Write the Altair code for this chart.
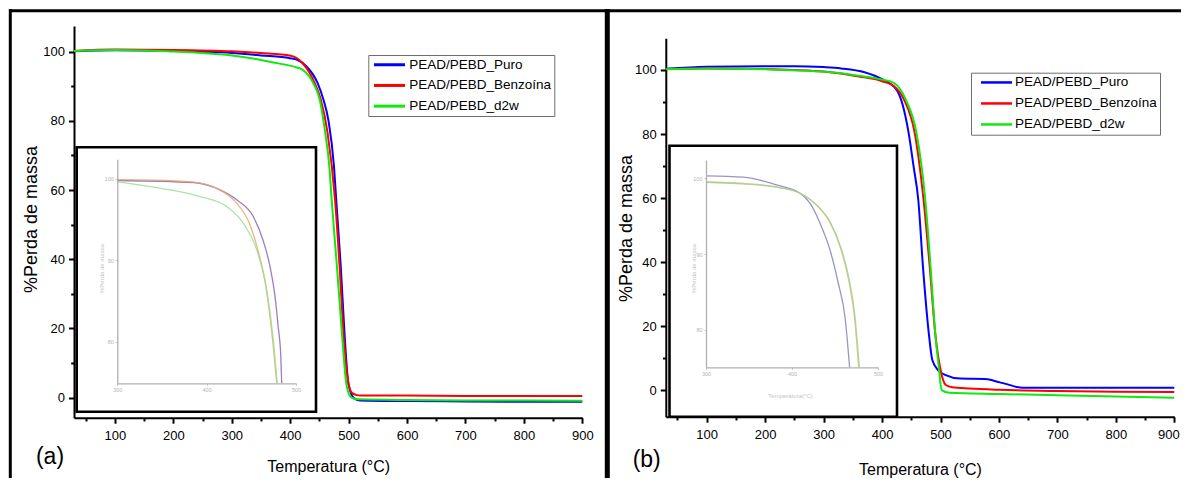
import altair as alt
import pandas as pd

# ---------------- data ----------------
SERIES = ["PEAD/PEBD_Puro", "PEAD/PEBD_Benzoína", "PEAD/PEBD_d2w"]
MAIN_COLORS = ["#0000ff", "#ff0000", "#10e810"]
INSET_A_COLORS = ["#8a66b8", "#e8a868", "#96e096"]
INSET_B_COLORS = ["#8484bc", "#d6c27a", "#a6cf8e"]

X_MAJOR = [100, 200, 300, 400, 500, 600, 700, 800, 900]
X_MINOR = [50, 150, 250, 350, 450, 550, 650, 750, 850]
Y_MAJOR = [0, 20, 40, 60, 80, 100]
Y_MINOR = [10, 30, 50, 70, 90]
INSET_X_TICKS = [300, 400, 500]
INSET_Y_TICKS = [80, 90, 100]

# panel (a) main curves
a_puro_t = [30, 100, 200, 300, 350, 400, 411, 427.6, 447, 457, 465.6, 475, 478.8, 486.6, 493, 499.7, 509.6, 520, 600, 700, 800, 900]
a_puro_m = [100.1, 100.4, 100.2, 99.6, 98.9, 98.1, 97.7, 95.8, 90.9, 86.1, 80.0, 66.8, 57.2, 37.9, 18.6, 4.1, -0.2, -0.8, -1.0, -1.1, -1.2, -1.2]
a_benz_t = [30, 100, 200, 300, 350, 401, 421, 442, 452.5, 464, 476.8, 484.6, 491.2, 499.7, 505, 512.8, 520, 600, 700, 800, 900]
a_benz_m = [100.2, 100.6, 100.5, 100.1, 99.6, 98.8, 96.7, 90.9, 86.1, 76.5, 57.2, 37.9, 18.6, 4.1, 1.5, 0.8, 0.6, 0.6, 0.5, 0.5, 0.5]
a_d2w_t = [30, 100, 200, 250, 300, 350, 380, 410, 421, 439.5, 450.6, 460, 467, 471, 480, 488.6, 496, 503, 510, 520, 600, 700, 800, 900]
a_d2w_m = [100.2, 100.5, 100.0, 99.6, 98.9, 97.6, 96.6, 95.5, 94.8, 90.9, 86.1, 76.5, 66.8, 57.2, 37.9, 18.6, 4.1, 0.3, -0.3, -0.5, -0.7, -0.8, -0.8, -0.9]

# panel (b) main curves
b_puro_t = [30, 100, 200, 250, 300, 330, 370, 399, 425, 445.6, 454, 462, 470, 480, 486, 496, 509, 534, 576, 590, 600, 615, 630, 640, 700, 800, 900]
b_puro_m = [100.4, 101.0, 101.2, 101.2, 100.9, 100.5, 99.3, 97.2, 93.8, 80.2, 69.8, 59.4, 38.5, 17.7, 9.4, 6.2, 4.7, 3.6, 3.5, 3.0, 2.5, 1.8, 1.0, 0.75, 0.75, 0.75, 0.75]
b_benz_t = [30, 100, 200, 250, 300, 360, 400, 420, 438, 456, 471, 481.6, 491, 499, 509, 520, 550, 600, 700, 800, 900]
b_benz_m = [100.3, 100.5, 100.3, 100.0, 99.5, 98.0, 96.5, 95.0, 90.6, 80.2, 59.4, 38.5, 17.7, 7.3, 1.6, 0.9, 0.5, 0.1, -0.3, -0.5, -0.6]
b_d2w_t = [30, 100, 200, 300, 360, 400, 420, 441, 459, 474, 483, 491, 497, 502, 515, 600, 700, 800, 900]
b_d2w_m = [100.2, 100.5, 100.2, 99.5, 98.2, 97.0, 96.0, 90.6, 80.2, 59.4, 38.5, 17.7, 7.3, 0.0, -0.8, -1.2, -1.6, -2.0, -2.4]

# inset (a) curves
ia_puro_t = [300, 385, 415, 434, 452, 463, 471, 476.5, 480, 483, 484]
ia_puro_m = [99.8, 99.55, 98.65, 97.4, 95.4, 92.5, 89.2, 85.6, 81.9, 78.2, 74.9]
ia_benz_t = [300, 340, 385, 412, 432, 448, 458, 466, 471, 475, 477.5, 478.5]
ia_benz_m = [99.9, 99.85, 99.6, 98.8, 97.2, 94.5, 91.0, 87.0, 83.0, 79.0, 76.0, 74.9]
ia_d2w_t = [300, 347.8, 392.6, 422.4, 441, 456, 467.2, 474.6, 479]
ia_d2w_m = [99.67, 98.86, 97.83, 96.6, 94.56, 91.3, 86.4, 80.25, 74.9]

# inset (b) curves
ib_puro_t = [300, 343.4, 382.2, 409.3, 420.9, 432.6, 444.2, 453.8, 461.6, 467]
ib_puro_m = [100.3, 100.13, 99.12, 98.02, 96.7, 94.06, 90.54, 86.15, 81.74, 75.07]
ib_benz_t = [300, 343, 382, 409, 428, 443.5, 457, 466.5, 472.5, 477.5]
ib_benz_m = [99.5, 99.3, 98.85, 98.05, 96.5, 94.3, 90.6, 86.2, 81.8, 75.07]
ib_d2w_t = [300, 343.4, 382.2, 409.3, 428.7, 444.2, 457.8, 467.4, 473.3, 478.3]
ib_d2w_m = [99.47, 99.25, 98.81, 98.02, 96.48, 94.27, 90.54, 86.15, 81.74, 75.07]


def table(ts, ms):
    rows = []
    for name, t, m in zip(SERIES, ts, ms):
        for a, b in zip(t, m):
            rows.append({"serie": name, "t": a, "m": b})
    return pd.DataFrame(rows)


df_a = table([a_puro_t, a_benz_t, a_d2w_t], [a_puro_m, a_benz_m, a_d2w_m])
df_b = table([b_puro_t, b_benz_t, b_d2w_t], [b_puro_m, b_benz_m, b_d2w_m])
df_ia = table([ia_puro_t, ia_benz_t, ia_d2w_t], [ia_puro_m, ia_benz_m, ia_d2w_m])
df_ib = table([ib_puro_t, ib_benz_t, ib_d2w_t], [ib_puro_m, ib_benz_m, ib_d2w_m])
one = pd.DataFrame({"k": [0]})

# ---------------- layout / style ----------------
W, H = 1173, 470
FONT = "Liberation Sans, Arial, sans-serif"


def sc(domain, rng):
    return alt.Scale(domain=domain, range=rng, nice=False, zero=False)


XA = sc([30, 900], [66, 574.3])
YA = sc([-5.8, 107.4], [409.7, 18])
XB = sc([30, 900], [657.8, 1166.3])
YB = sc([-8.3, 109.9], [408.7, 30.3])
IXA = sc([300, 500], [109.3, 288])
IYA = sc([74.9, 102.4], [375.3, 151.3])
IXB = sc([300, 500], [698, 870])
IYB = sc([75.07, 102.4], [359.3, 152])


def main_x_axis(offset, tx, ty, flush):
    kw = dict(orient="bottom", offset=offset, values=X_MAJOR, format="d",
              title="Temperatura (°C)", titleFont=FONT, titleFontSize=16,
              titleFontWeight="normal", titleColor="black", titleX=tx, titleY=ty,
              titleBaseline="middle", titleAlign="center",
              labelFont=FONT, labelFontSize=13, labelColor="black", labelPadding=6,
              labelFlush=flush, labelOverlap=False, tickSize=5.5, tickWidth=2,
              tickColor="black", domainColor="black", domainWidth=2, grid=False)
    if flush:
        kw["labelFlushOffset"] = 5
    return alt.Axis(**kw)


def main_y_axis(offset, tx, ty):
    return alt.Axis(orient="left", offset=offset, values=Y_MAJOR, format="d",
                    title="%Perda de massa", titleFont=FONT, titleFontSize=18,
                    titleFontWeight="normal", titleColor="black", titleX=tx, titleY=ty,
                    titleAngle=270, titleBaseline="middle", titleAlign="center",
                    labelFont=FONT, labelFontSize=13, labelColor="black", labelPadding=4,
                    labelOverlap=False, tickSize=5.5, tickWidth=2,
                    tickColor="black", domainColor="black", domainWidth=2, grid=False)


def minor_axis(orient, offset, values):
    return alt.Axis(orient=orient, offset=offset, values=values, labels=False, domain=False,
                    title=None, tickSize=3.3, tickWidth=2, tickColor="black", grid=False)


def legend(lx, ly, so, lo, sw, rp):
    return alt.Legend(orient="none", legendX=lx, legendY=ly, title=None,
                      symbolType="M-3.1,0H3.1", symbolSize=100, symbolStrokeWidth=sw,
                      symbolOffset=so, labelOffset=lo, labelFont=FONT, labelFontSize=13.5,
                      labelColor="black", labelLimit=400, strokeColor="#6e6e6e",
                      fillColor="white", padding=3, rowPadding=rp)


def main_layer(df, xs, ys, xaxis, yaxis, leg):
    return alt.Chart(df).mark_line(strokeWidth=2, interpolate="monotone").encode(
        x=alt.X("t:Q", scale=xs, axis=xaxis),
        y=alt.Y("m:Q", scale=ys, axis=yaxis),
        color=alt.Color("serie:N", scale=alt.Scale(domain=SERIES, range=MAIN_COLORS),
                        sort=SERIES, legend=leg),
    )


def minor_layer(df, xs, ys, xoff, yoff):
    return alt.Chart(df).mark_point(opacity=0).encode(
        x=alt.X("t:Q", scale=xs, axis=minor_axis("bottom", xoff, X_MINOR)),
        y=alt.Y("m:Q", scale=ys, axis=minor_axis("left", yoff, Y_MINOR)),
    )


def inset_axis(orient, offset, title, extra):
    kw = dict(orient=orient, offset=offset, grid=False, zindex=2, domainColor="#b0b0b0",
              domainWidth=1.3, tickColor="#c4c4c4", tickSize=2, tickWidth=1,
              labelFont=FONT, labelFontSize=5.5, labelColor="#b4b4b4", labelPadding=2,
              labelFlush=False, labelOverlap=False,
              values=INSET_X_TICKS if orient == "bottom" else INSET_Y_TICKS)
    if title:
        kw.update(title=title, titleFont=FONT, titleFontSize=6, titleColor="#c4c4c4",
                  titleFontWeight="normal", titleBaseline="middle", titleAlign="center")
        kw.update(extra)
    else:
        kw.update(title=None)
    return alt.Axis(**kw)


def inset_layer(df, xs, ys, colors, xaxis, yaxis):
    return alt.Chart(df).mark_line(strokeWidth=1.3, interpolate="monotone", opacity=0.85).encode(
        x=alt.X("t:Q", scale=xs, axis=xaxis),
        y=alt.Y("m:Q", scale=ys, axis=yaxis),
        color=alt.Color("serie:N", scale=alt.Scale(domain=SERIES, range=colors), legend=None),
    )


def box(x0, x1, y0, y1):
    return alt.Chart(one).mark_rect(fill="white", stroke="black", strokeWidth=2.6).encode(
        x=alt.value(x0), x2=alt.value(x1), y=alt.value(y0), y2=alt.value(y1))


def rule_h(x0, x1, y, w):
    return alt.Chart(one).mark_rule(color="black", strokeWidth=w).encode(
        x=alt.value(x0), x2=alt.value(x1), y=alt.value(y))


def rule_v(x, y0, y1, w):
    return alt.Chart(one).mark_rule(color="black", strokeWidth=w).encode(
        x=alt.value(x), y=alt.value(y0), y2=alt.value(y1))


def label(txt, x, y):
    return alt.Chart(one).mark_text(text=txt, font=FONT, fontSize=23, color="black",
                                    align="center", baseline="middle").encode(
        x=alt.value(x), y=alt.value(y))


layers = [
    rule_h(1, W, 2.7, 3),
    rule_v(2.3, 1, H, 3),
    rule_v(599.3, 1, H, 5),
    # panel (a)
    main_layer(df_a, XA, YA, main_x_axis(-60.3, 320.2, 49, False),
               main_y_axis(-66, -43, 211), legend(360.3, 47, 11.45, 13.05, 3, 5.7)),
    minor_layer(df_a, XA, YA, -60.3, -66),
    box(68.7, 308, 139.3, 403.7),
    inset_layer(df_ia, IXA, IYA, INSET_A_COLORS,
                inset_axis("bottom", -94.7, None, {}),
                inset_axis("left", -109.3, "%Perda de massa",
                           {"titleX": -15.6, "titleY": 260, "titleAngle": 270})),
    label("(a)", 42, 449),
    # panel (b)
    main_layer(df_b, XB, YB, main_x_axis(-61.3, 912, 53, True),
               main_y_axis(-657.8, -39.1, 220), legend(963, 64.7, 15.75, 11.75, 2.5, 6)),
    minor_layer(df_b, XB, YB, -61.3, -657.8),
    box(661.5, 889, 137.7, 408.7),
    inset_layer(df_ib, IXB, IYB, INSET_B_COLORS,
                inset_axis("bottom", -110.7, "Temperatura(°C)",
                           {"titleX": 782, "titleY": 27.7}),
                inset_axis("left", -698, "%Perda de massa",
                           {"titleX": -13, "titleY": 260, "titleAngle": 270})),
    label("(b)", 638.7, 452),
]

chart = alt.layer(*layers).resolve_scale(
    x="independent", y="independent", color="independent"
).properties(
    width=W, height=H, autosize=alt.AutoSizeParams(type="none"), padding=0,
    background="white",
).configure_view(stroke=None)

chart.save("out.html", embed_options={"renderer": "svg", "actions": False})
